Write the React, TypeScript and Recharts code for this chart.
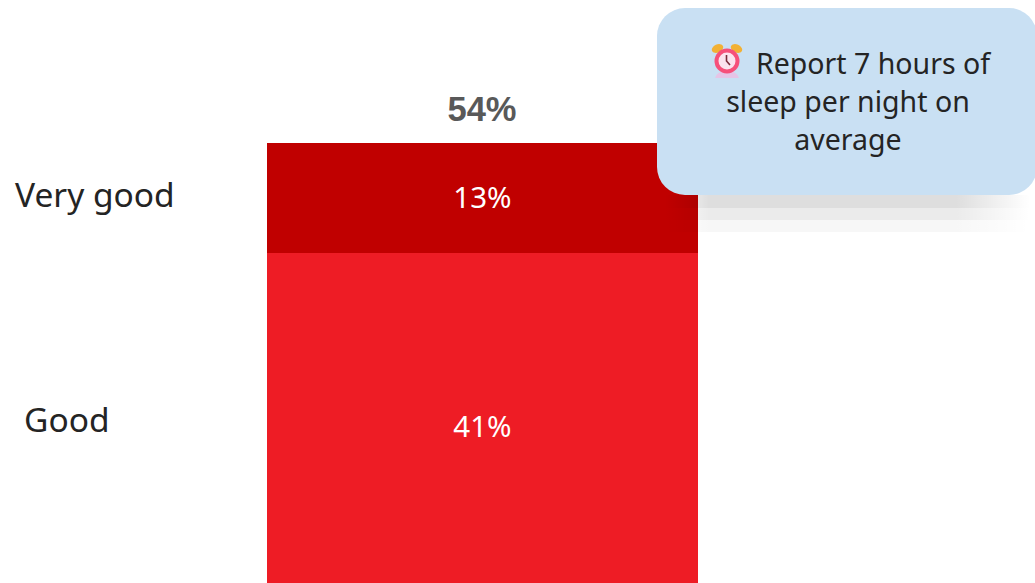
import { BarChart, Bar, XAxis, YAxis, LabelList } from "recharts";

const categories = ["Sleep quality"];
const goodValues = [41];
const veryGoodValues = [13];
const totalValues = [54];
const seriesNames = ["Very good", "Good"];
const calloutLines = ["Report 7 hours of", "sleep per night on", "average"];

const chartData = categories.map((name, i) => ({
  name,
  good: goodValues[i],
  veryGood: veryGoodValues[i],
}));

const FONT = "'Noto Sans', sans-serif";

function AlarmIcon() {
  return (
    <svg width="32" height="36" viewBox="0 0 32 36" style={{ position: "absolute", left: 54, top: 35 }}>
      <ellipse cx="6.5" cy="5.5" rx="6" ry="4" fill="#f2b134" transform="rotate(-25 6.5 5.5)" />
      <ellipse cx="25.5" cy="5.5" rx="6" ry="4" fill="#f2b134" transform="rotate(25 25.5 5.5)" />
      <path d="M4 35 Q6 28 16 28 Q26 28 28 35 Z" fill="#e6c4e6" />
      <circle cx="16" cy="18" r="12.5" fill="#f6507a" />
      <circle cx="16" cy="18" r="8.5" fill="#fbe3ee" />
      <path d="M15.5 12 V18 L19 22" stroke="#7a2b3a" strokeWidth="1.6" fill="none" />
    </svg>
  );
}

// soft blocky drop shadow under the callout
function ShadowBand({ top, height, alpha }: { top: number; height: number; alpha: number }) {
  const c = `rgba(0,0,0,${alpha})`;
  return (
    <div
      style={{
        position: "absolute",
        left: 665,
        top,
        width: 365,
        height,
        background: `linear-gradient(90deg, rgba(0,0,0,0) 0%, ${c} 12%, ${c} 80%, rgba(0,0,0,0) 100%)`,
      }}
    />
  );
}

function Callout() {
  return (
    <>
      <ShadowBand top={195} height={13} alpha={0.13} />
      <ShadowBand top={208} height={12} alpha={0.08} />
      <ShadowBand top={220} height={12} alpha={0.03} />
      <div
        style={{
          position: "absolute",
          left: 657,
          top: 8,
          width: 380,
          height: 187,
          borderRadius: 28,
          background: "#c9e0f3",
          color: "#242424",
          fontFamily: FONT,
          fontSize: 28.5,
        }}
      >
        <AlarmIcon />
        {calloutLines.map((line, i) => (
          <div
            key={line}
            style={{
              position: "absolute",
              top: 36 + i * 38,
              left: i === 0 ? 99 : 0,
              width: i === 0 ? "auto" : 382,
              textAlign: i === 0 ? "left" : "center",
              lineHeight: "38px",
              whiteSpace: "nowrap",
            }}
          >
            {line}
          </div>
        ))}
      </div>
    </>
  );
}

const seriesLabel = (text: string, left: number, baseline: number) => (
  <text x={left} y={baseline} fontFamily={FONT} fontSize={33.5} fill="#242424">
    {text}
  </text>
);

export default function App() {
  return (
    <div
      style={{
        position: "fixed",
        left: 0,
        top: 0,
        width: 1035,
        height: 583,
        overflow: "hidden",
        background: "#fff",
      }}
    >
      {/* the stack runs past the bottom of the frame and gets clipped */}
      <BarChart
        width={1035}
        height={600}
        data={chartData}
        margin={{ top: 143, right: 337, bottom: 0, left: 267 }}
        barCategoryGap={0}
      >
        <XAxis dataKey="name" hide />
        <YAxis hide domain={[0, 54]} />
        <Bar dataKey="good" stackId="a" fill="#ee1c25" isAnimationActive={false}>
          <LabelList
            dataKey="good"
            position="center"
            formatter={(v: number) => `${v}%`}
            fill="#fff"
            fontFamily={FONT}
            fontSize={29.5}
          />
          <LabelList content={() => seriesLabel(seriesNames[1], 24, 432)} />
        </Bar>
        <Bar dataKey="veryGood" stackId="a" fill="#c00000" isAnimationActive={false}>
          <LabelList
            dataKey="veryGood"
            position="center"
            formatter={(v: number) => `${v}%`}
            fill="#fff"
            fontFamily={FONT}
            fontSize={29.5}
          />
          <LabelList content={() => seriesLabel(seriesNames[0], 15, 207)} />
          <LabelList
            content={(p: any) => (
              <text
                x={p.x + p.width / 2 - 0.5}
                y={p.y - 22}
                textAnchor="middle"
                fontFamily="'Liberation Sans', sans-serif"
                fontWeight="bold"
                fontSize={34.5}
                fill="#595959"
              >
                {totalValues[0]}%
              </text>
            )}
          />
        </Bar>
      </BarChart>
      <Callout />
    </div>
  );
}
